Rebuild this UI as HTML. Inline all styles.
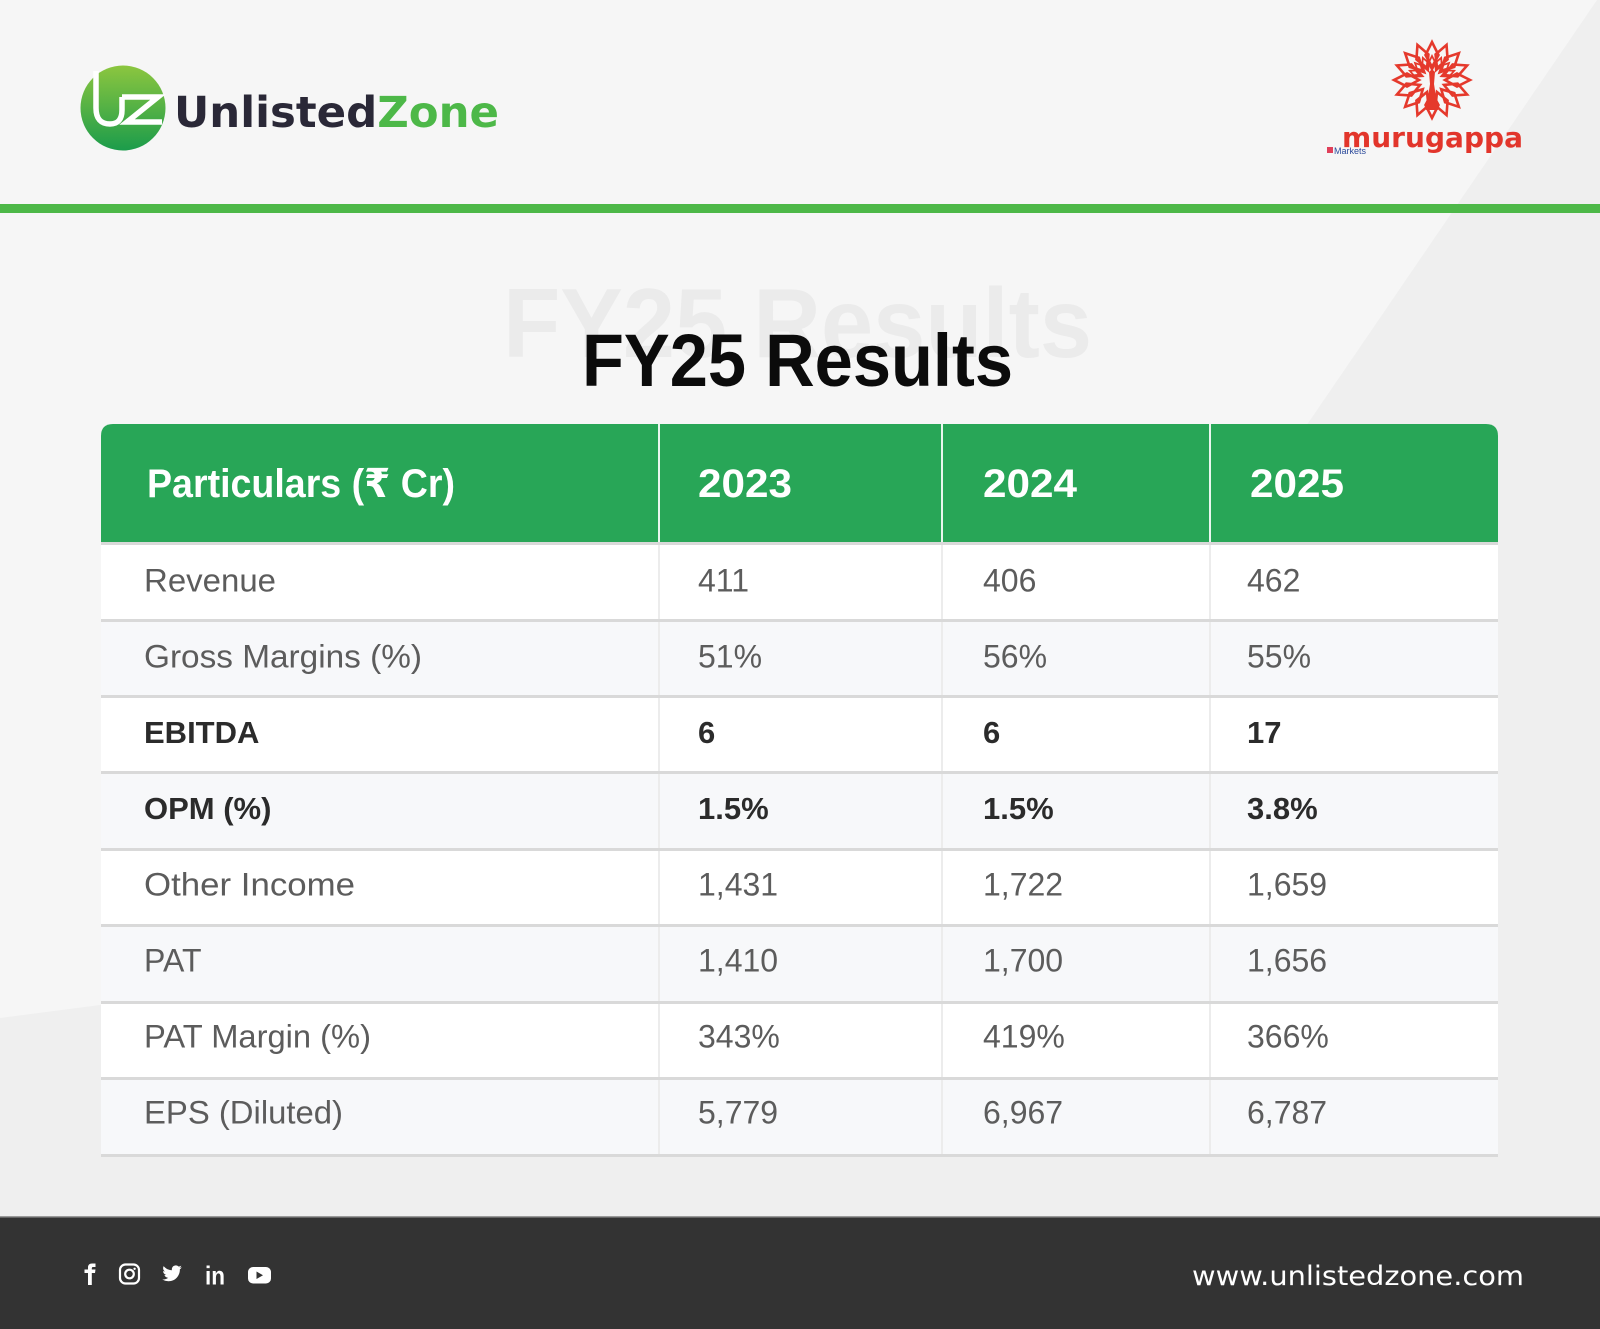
<!DOCTYPE html>
<html>
<head>
<meta charset="utf-8">
<style>
  html,body{margin:0;padding:0;background:#efefef;}
  body{width:1600px;height:1329px;overflow:hidden;}
  svg{display:block;}
  .ls{font-family:"Liberation Sans","DejaVu Sans",sans-serif;}
  .dv{font-family:"DejaVu Sans","Liberation Sans",sans-serif;}
</style>
</head>
<body>
<svg width="1600" height="1329" viewBox="0 0 1600 1329" xmlns="http://www.w3.org/2000/svg">
  <defs>
    <linearGradient id="uzg" x1="0" y1="0" x2="0" y2="1">
      <stop offset="0" stop-color="#8cc63f"/>
      <stop offset="1" stop-color="#1b9c4b"/>
    </linearGradient>
    <path id="petal" d="M0,-13 L-6.5,-25 L0,-38 L6.5,-25 Z" fill="none" stroke="#e5392c" stroke-width="2.6" stroke-linejoin="miter"/>
    <path id="petal2" d="M0,-10 L-3.5,-17 L0,-24 L3.5,-17 Z" fill="none" stroke="#e5392c" stroke-width="1.8"/>
  </defs>

  <!-- background -->
  <rect x="0" y="0" width="1600" height="1329" fill="#efefef"/>
  <polygon points="0,0 1597,0 990,889 0,1018" fill="#f6f6f6"/>

  <!-- UnlistedZone logo -->
  <circle cx="123" cy="108" r="42.5" fill="url(#uzg)"/>
  <path d="M96,71 V108 Q96,124 110,124 Q122,124 122,110 V97" fill="none" stroke="#fff" stroke-width="5.5"/>
  <path d="M122,97 H158 L127,122 H162" fill="none" stroke="#fff" stroke-width="5.5" stroke-linejoin="miter"/>
  <text class="dv" x="174" y="127" font-size="43" font-weight="bold" textLength="325" lengthAdjust="spacingAndGlyphs"><tspan fill="#2a2837">Unlisted</tspan><tspan fill="#4db848">Zone</tspan></text>

  <!-- Murugappa logo -->
  <g transform="translate(1432,80)">
    <use href="#petal" transform="rotate(0)"/>
    <use href="#petal" transform="rotate(22.5)"/>
    <use href="#petal" transform="rotate(45)"/>
    <use href="#petal" transform="rotate(67.5)"/>
    <use href="#petal" transform="rotate(90)"/>
    <use href="#petal" transform="rotate(112.5)"/>
    <use href="#petal" transform="rotate(135)"/>
    <use href="#petal" transform="rotate(157.5)"/>
    <use href="#petal" transform="rotate(180)"/>
    <use href="#petal" transform="rotate(202.5)"/>
    <use href="#petal" transform="rotate(225)"/>
    <use href="#petal" transform="rotate(247.5)"/>
    <use href="#petal" transform="rotate(270)"/>
    <use href="#petal" transform="rotate(292.5)"/>
    <use href="#petal" transform="rotate(315)"/>
    <use href="#petal" transform="rotate(337.5)"/>
    <use href="#petal2" transform="rotate(-67.5)"/>
    <use href="#petal2" transform="rotate(-45)"/>
    <use href="#petal2" transform="rotate(-22.5)"/>
    <use href="#petal2" transform="rotate(0)"/>
    <use href="#petal2" transform="rotate(22.5)"/>
    <use href="#petal2" transform="rotate(45)"/>
    <use href="#petal2" transform="rotate(67.5)"/>
    <path d="M-3,-8 Q0,-12 3,-8 L2,4 L6,30 L-6,30 L-2,4 Z" fill="#e5392c"/>
  </g>
  <text class="dv" x="1342" y="147" font-size="28" font-weight="bold" fill="#e2352b" textLength="181" lengthAdjust="spacing">murugappa</text>
  <rect x="1327" y="147" width="6" height="6" fill="#e0405a"/>
  <text class="ls" x="1334" y="154" font-size="9" fill="#2b4a9b">Markets</text>

  <!-- green rule -->
  <rect x="0" y="204" width="1600" height="9" fill="#4db848"/>

  <!-- Title -->
  <text class="ls" x="503" y="357" font-size="98" font-weight="bold" fill="#ebebeb" textLength="589" lengthAdjust="spacingAndGlyphs">FY25 Results</text>
  <text class="ls" x="582" y="386" font-size="74" font-weight="bold" fill="#0b0b0b" textLength="431" lengthAdjust="spacingAndGlyphs">FY25 Results</text>

  <!-- Table header -->
  <path d="M101,545 V436 Q101,424 113,424 H1486 Q1498,424 1498,436 V545 Z" fill="#28a657"/>
  <rect x="658" y="424" width="2" height="118" fill="#ffffff" opacity="0.9"/>
  <rect x="941" y="424" width="2" height="118" fill="#ffffff" opacity="0.9"/>
  <rect x="1209" y="424" width="2" height="118" fill="#ffffff" opacity="0.9"/>
  <g class="ls" font-size="40" font-weight="bold" fill="#ffffff">
    <text x="147" y="497" textLength="308" lengthAdjust="spacingAndGlyphs">Particulars (₹ Cr)</text>
    <text x="698" y="497" textLength="94" lengthAdjust="spacingAndGlyphs">2023</text>
    <text x="983" y="497" textLength="94" lengthAdjust="spacingAndGlyphs">2024</text>
    <text x="1250" y="497" textLength="94" lengthAdjust="spacingAndGlyphs">2025</text>
  </g>

  <!-- Table body rows -->
  <rect x="101" y="545" width="1397" height="74" fill="#ffffff"/>
  <rect x="101" y="622" width="1397" height="73" fill="#f7f8fa"/>
  <rect x="101" y="698" width="1397" height="73" fill="#ffffff"/>
  <rect x="101" y="774" width="1397" height="74" fill="#f7f8fa"/>
  <rect x="101" y="851" width="1397" height="73" fill="#ffffff"/>
  <rect x="101" y="927" width="1397" height="74" fill="#f7f8fa"/>
  <rect x="101" y="1004" width="1397" height="73" fill="#ffffff"/>
  <rect x="101" y="1080" width="1397" height="74" fill="#f7f8fa"/>

  <!-- column dividers body -->
  <rect x="658" y="545" width="2" height="609" fill="#ececec"/>
  <rect x="941" y="545" width="2" height="609" fill="#ececec"/>
  <rect x="1209" y="545" width="2" height="609" fill="#ececec"/>

  <!-- row lines -->
  <g fill="#d9d9d9">
    <rect x="101" y="542" width="1397" height="3"/>
    <rect x="101" y="619" width="1397" height="3"/>
    <rect x="101" y="695" width="1397" height="3"/>
    <rect x="101" y="771" width="1397" height="3"/>
    <rect x="101" y="848" width="1397" height="3"/>
    <rect x="101" y="924" width="1397" height="3"/>
    <rect x="101" y="1001" width="1397" height="3"/>
    <rect x="101" y="1077" width="1397" height="3"/>
    <rect x="101" y="1154" width="1397" height="3"/>
  </g>

  <!-- body text -->
  <g class="ls" font-size="32" fill="#5c5c5c">
    <text x="144" y="591.5" textLength="132" lengthAdjust="spacingAndGlyphs">Revenue</text>
    <text x="698" y="591.5">411</text>
    <text x="983" y="591.5">406</text>
    <text x="1247" y="591.5">462</text>

    <text x="144" y="667.5" textLength="278" lengthAdjust="spacingAndGlyphs">Gross Margins (%)</text>
    <text x="698" y="667.5">51%</text>
    <text x="983" y="667.5">56%</text>
    <text x="1247" y="667.5">55%</text>

    <text x="144" y="895.5" textLength="211" lengthAdjust="spacingAndGlyphs">Other Income</text>
    <text x="698" y="895.5">1,431</text>
    <text x="983" y="895.5">1,722</text>
    <text x="1247" y="895.5">1,659</text>

    <text x="144" y="971.5">PAT</text>
    <text x="698" y="971.5">1,410</text>
    <text x="983" y="971.5">1,700</text>
    <text x="1247" y="971.5">1,656</text>

    <text x="144" y="1047.5" textLength="227" lengthAdjust="spacingAndGlyphs">PAT Margin (%)</text>
    <text x="698" y="1047.5">343%</text>
    <text x="983" y="1047.5">419%</text>
    <text x="1247" y="1047.5">366%</text>

    <text x="144" y="1123.5" textLength="199" lengthAdjust="spacingAndGlyphs">EPS (Diluted)</text>
    <text x="698" y="1123.5">5,779</text>
    <text x="983" y="1123.5">6,967</text>
    <text x="1247" y="1123.5">6,787</text>
  </g>
  <g class="ls" font-size="31" font-weight="bold" fill="#2b2b2b">
    <text x="144" y="743">EBITDA</text>
    <text x="698" y="743">6</text>
    <text x="983" y="743">6</text>
    <text x="1247" y="743">17</text>

    <text x="144" y="819">OPM (%)</text>
    <text x="698" y="819">1.5%</text>
    <text x="983" y="819">1.5%</text>
    <text x="1247" y="819">3.8%</text>
  </g>

  <!-- footer -->
  <rect x="0" y="1216" width="1600" height="113" fill="#333333"/>
  <rect x="0" y="1216" width="1600" height="1.5" fill="#9a9a9a"/>

  <!-- facebook -->
  <path d="M88,1285 V1273 H84.5 V1269.5 H88 V1267.5 Q88,1263.5 92,1263.5 H95.5 V1267 H93 Q91.8,1267 91.8,1268.2 V1269.5 H95.5 L95,1273 H91.8 V1285 Z" fill="#ffffff"/>
  <!-- instagram -->
  <rect x="120" y="1264.5" width="19" height="19" rx="5.5" fill="none" stroke="#ffffff" stroke-width="2.2"/>
  <circle cx="129.5" cy="1274" r="4.3" fill="none" stroke="#ffffff" stroke-width="2.2"/>
  <circle cx="134.6" cy="1268.8" r="1.2" fill="#ffffff"/>
  <!-- twitter -->
  <g transform="translate(161.5,1263) scale(0.86)">
    <path fill="#ffffff" d="M23.643 4.937c-.835.37-1.732.62-2.675.733.962-.576 1.7-1.49 2.048-2.578-.9.534-1.897.922-2.958 1.13-.85-.904-2.06-1.47-3.4-1.470-2.572 0-4.658 2.086-4.658 4.66 0 .364.042.718.12 1.060-3.873-.195-7.304-2.050-9.602-4.868-.4.69-.63 1.49-.63 2.342 0 1.616.823 3.043 2.072 3.878-.764-.025-1.482-.234-2.110-.583v.06c0 2.257 1.605 4.140 3.737 4.568-.392.106-.803.162-1.227.162-.3 0-.593-.028-.877-.082.593 1.850 2.313 3.198 4.352 3.234-1.595 1.250-3.604 1.995-5.786 1.995-.376 0-.747-.022-1.112-.065 2.062 1.323 4.510 2.093 7.140 2.093 8.570 0 13.255-7.098 13.255-13.254 0-.2-.005-.402-.014-.602.910-.658 1.700-1.477 2.323-2.410z"/>
  </g>
  <!-- linkedin -->
  <text class="ls" x="205" y="1284.5" font-size="26" font-weight="bold" fill="#ffffff" textLength="20" lengthAdjust="spacingAndGlyphs">in</text>
  <!-- youtube -->
  <rect x="248" y="1267" width="23" height="16.5" rx="5" fill="#ffffff"/>
  <path d="M256.5,1271.5 L263,1275.2 L256.5,1279 Z" fill="#333333"/>

  <!-- url -->
  <text class="dv" x="1524" y="1285" font-size="27" fill="#ffffff" text-anchor="end" textLength="332" lengthAdjust="spacingAndGlyphs">www.unlistedzone.com</text>
</svg>
</body>
</html>
